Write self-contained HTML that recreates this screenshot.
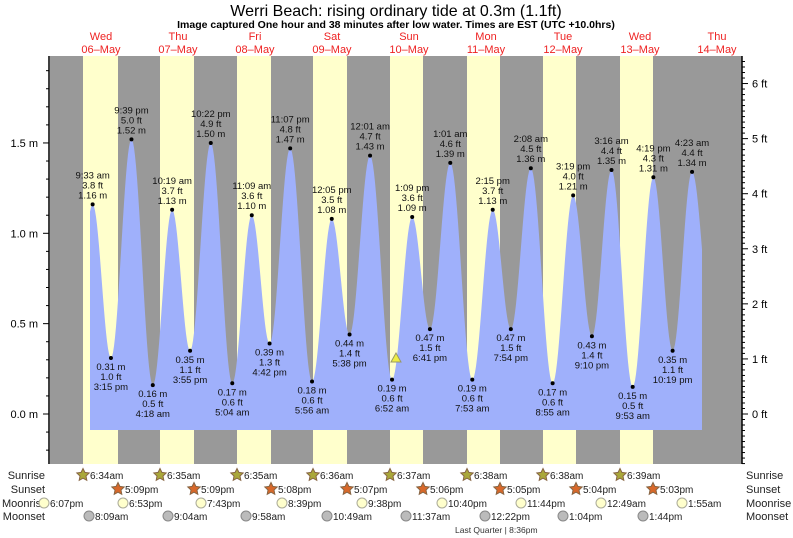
<!DOCTYPE html>
<html><head><meta charset="utf-8"><style>
body{margin:0;background:#fff;}
svg{display:block;font-family:"Liberation Sans",sans-serif;}
</style></head><body>
<svg id="s" width="793" height="538" xmlns="http://www.w3.org/2000/svg"></svg>
<script>
const S=document.getElementById('s');let h='';
const X=t=>62+t*77/24, Y=m=>414-m*180.7;
h+='<rect x="50" y="56" width="692" height="408" fill="#999"/>';
const sr=[83,160,237,313,390,467,543,620], ss=[118,194,271,347,423,500,576,653];
for(let i=0;i<8;i++)h+=`<rect x="${sr[i]}" y="56" width="${ss[i]-sr[i]}" height="408" fill="#ffffcc"/>`;
const d=[[9.55,1.16,'9:33 am','3.8 ft'],[15.25,.31,'3:15 pm','1.0 ft'],[21.65,1.52,'9:39 pm','5.0 ft'],[28.3,.16,'4:18 am','0.5 ft'],[34.32,1.13,'10:19 am','3.7 ft'],[39.92,.35,'3:55 pm','1.1 ft'],[46.37,1.50,'10:22 pm','4.9 ft'],[53.07,.17,'5:04 am','0.6 ft'],[59.15,1.10,'11:09 am','3.6 ft'],[64.7,.39,'4:42 pm','1.3 ft'],[71.12,1.47,'11:07 pm','4.8 ft'],[77.93,.18,'5:56 am','0.6 ft'],[84.08,1.08,'12:05 pm','3.5 ft'],[89.63,.44,'5:38 pm','1.4 ft'],[96.02,1.43,'12:01 am','4.7 ft'],[102.87,.19,'6:52 am','0.6 ft'],[109.15,1.09,'1:09 pm','3.6 ft'],[114.68,.47,'6:41 pm','1.5 ft'],[121.02,1.39,'1:01 am','4.6 ft'],[127.88,.19,'7:53 am','0.6 ft'],[134.25,1.13,'2:15 pm','3.7 ft'],[139.9,.47,'7:54 pm','1.5 ft'],[146.13,1.36,'2:08 am','4.5 ft'],[152.92,.17,'8:55 am','0.6 ft'],[159.32,1.21,'3:19 pm','4.0 ft'],[165.17,.43,'9:10 pm','1.4 ft'],[171.27,1.35,'3:16 am','4.4 ft'],[177.88,.15,'9:53 am','0.5 ft'],[184.32,1.31,'4:19 pm','4.3 ft'],[190.32,.35,'10:19 pm','1.1 ft'],[196.38,1.34,'4:23 am','4.4 ft']];
// curve
const ext=[[d[0][0]-6.2,.22],...d.map(a=>[a[0],a[1]]),[202.6,.48]];
let p=`M90 430 `;
for(let x=90;x<=702;x+=1){const t=(x-62)*24/77;let i=0;while(i<ext.length-2&&ext[i+1][0]<t)i++;const a=ext[i],b=ext[i+1];let f=(t-a[0])/(b[0]-a[0]);f=Math.max(0,Math.min(1,f));const m=a[1]+(b[1]-a[1])*(1-Math.cos(Math.PI*f))/2;p+=`L${x} ${Y(m).toFixed(1)} `;}
p+='L702 430Z';
h+=`<path d="${p}" fill="#9fb0fb"/>`;
d.forEach((a,i)=>{const x=X(a[0]),y=Y(a[1]),hi=a[1]>0.8;h+=`<circle cx="${x}" cy="${y}" r="2" fill="#000"/>`;
const l=hi?[a[2],a[3],a[1].toFixed(2)+' m']:[a[1].toFixed(2)+' m',a[3],a[2]];
l.forEach((s,j)=>{const yy=hi?y-26+j*10:y+12+j*10;h+=`<text x="${x}" y="${yy}" font-size="9.5" text-anchor="middle" fill="#111">${s}</text>`;});});
h+='<polygon points="396,353 391,362 401,362" fill="#ee4" stroke="#996"/>';
// axes
h+='<line x1="49" y1="56" x2="49" y2="464" stroke="#000" stroke-width="1.5"/><line x1="742" y1="56" x2="742" y2="464" stroke="#000" stroke-width="1.5"/>';
for(let k=-4;k<=20;k++){const y=Y(k/10);if(y<56||y>464)continue;const mj=k%5==0;h+=`<line x1="${mj?43:46}" y1="${y}" x2="49" y2="${y}" stroke="#000"/>`;if(mj)h+=`<text x="38" y="${y+4}" font-size="11" text-anchor="end">${(k/10).toFixed(1)} m</text>`;}
for(let k=-10;k<=65;k++){const y=Y(k*0.03048);if(y<56||y>464)continue;const mj=k%10==0;h+=`<line x1="742" y1="${y}" x2="${mj?748:745}" y2="${y}" stroke="#000"/>`;if(mj)h+=`<text x="752" y="${y+4}" font-size="11">${k/10} ft</text>`;}
// titles
h+='<text x="396" y="16" font-size="16" text-anchor="middle">Werri Beach: rising  ordinary tide at 0.3m (1.1ft)</text>';
h+='<text x="396" y="28" font-size="10.5" font-weight="bold" text-anchor="middle">Image captured One hour and 38 minutes after low water. Times are EST (UTC +10.0hrs)</text>';
const dn=['Wed','Thu','Fri','Sat','Sun','Mon','Tue','Wed','Thu'],dt=['06','07','08','09','10','11','12','13','14'];
dn.forEach((n,i)=>{const x=101+i*77;h+=`<text x="${x}" y="40" font-size="11" fill="#e22" text-anchor="middle">${n}</text><text x="${x}" y="53" font-size="11" fill="#e22" text-anchor="middle">${dt[i]}–May</text>`;});
// bottom rows
const L=(t,y)=>{h+=`<text x="45" y="${y}" font-size="11" text-anchor="end" fill="#222">${t}</text><text x="746" y="${y}" font-size="11" fill="#222">${t}</text>`;};
L('Sunrise',479);L('Sunset',493);h+=`<text x="2" y="507" font-size="11" fill="#222">Moonris</text><text x="746" y="507" font-size="11" fill="#222">Moonrise</text>`;L('Moonset',520);
const star=(x,y,c)=>{let q='';for(let i=0;i<10;i++){const r=i%2?3.2:6.5,a=-Math.PI/2+i*Math.PI/5;q+=`${(x+r*Math.cos(a)).toFixed(1)},${(y+r*Math.sin(a)).toFixed(1)} `;}h+=`<polygon points="${q}" fill="${c}" stroke="#864"/>`;};
const srt=['6:34am','6:35am','6:35am','6:36am','6:37am','6:38am','6:38am','6:39am'],sst=['5:09pm','5:09pm','5:08pm','5:07pm','5:06pm','5:05pm','5:04pm','5:03pm'];
for(let i=0;i<8;i++){star(sr[i],475,'#aaa83a');h+=`<text x="${sr[i]+7}" y="479" font-size="10" fill="#222">${srt[i]}</text>`;star(ss[i],489,'#d8682a');h+=`<text x="${ss[i]+7}" y="493" font-size="10" fill="#222">${sst[i]}</text>`;}
const mr=[44,123,201,282,362,442,521,601,682],mrt=['6:07pm','6:53pm','7:43pm','8:39pm','9:38pm','10:40pm','11:44pm','12:49am','1:55am'];
mr.forEach((x,i)=>{h+=`<circle cx="${x}" cy="503" r="5" fill="#ffffcc" stroke="#aa9"/><text x="${x+6}" y="507" font-size="10" fill="#222">${mrt[i]}</text>`;});
const ms=[89,168,246,327,406,485,563,643],mst=['8:09am','9:04am','9:58am','10:49am','11:37am','12:22pm','1:04pm','1:44pm'];
ms.forEach((x,i)=>{h+=`<circle cx="${x}" cy="516" r="5" fill="#bbb" stroke="#888"/><text x="${x+6}" y="520" font-size="10" fill="#222">${mst[i]}</text>`;});
h+='<text x="455" y="533" font-size="8.5" fill="#333">Last Quarter | 8:36pm</text>';
S.innerHTML=h;
</script>
</body></html>
